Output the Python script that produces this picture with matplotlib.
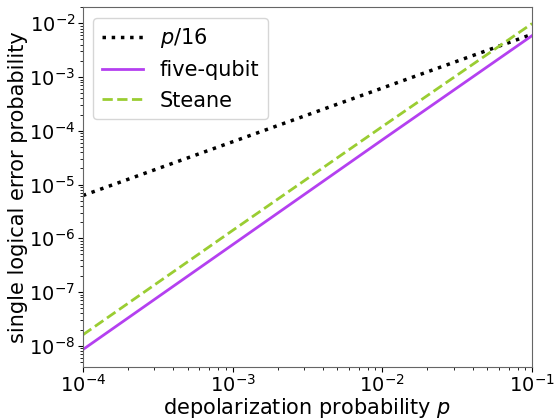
import numpy as np
import matplotlib
matplotlib.use("Agg")
import matplotlib.pyplot as plt

# ==========================
# data
# ==========================
p = [1e-4, 1e-3, 1e-2, 1e-1]
p_over_16 = [6.25e-6, 6.25e-5, 6.25e-4, 6.25e-3]
five_qubit = [8.5e-9, 7.6e-7, 6.8e-5, 5.9e-3]
steane = [1.6e-8, 1.4e-6, 1.2e-4, 9.9e-3]

plt.rcParams["font.size"] = 15

fig, ax = plt.subplots(figsize=(5.56, 4.19), dpi=100)

ax.plot(p, p_over_16, color="black", linestyle=":", linewidth=2.5, label="$p/16$")
ax.plot(p, five_qubit, color="#b440f0", linestyle="-", linewidth=2, label="five-qubit")
ax.plot(p, steane, color="#9acd32", linestyle="--", linewidth=2, label="Steane")

ax.set_xscale("log")
ax.set_yscale("log")
ax.set_xlim(1e-4, 1e-1)
ax.set_ylim(4.1e-9, 2.0e-2)

ax.set_xlabel("depolarization probability $p$", labelpad=0)
ax.set_ylabel("single logical error probability", labelpad=1)
ax.tick_params(labelsize=14, pad=2)
for s in ax.spines.values():
    s.set_color("0.4")

ax.legend(loc="upper left", fontsize=15)

fig.subplots_adjust(left=0.149, right=0.957, top=0.983, bottom=0.125)
fig.savefig("out.png", dpi=100)
